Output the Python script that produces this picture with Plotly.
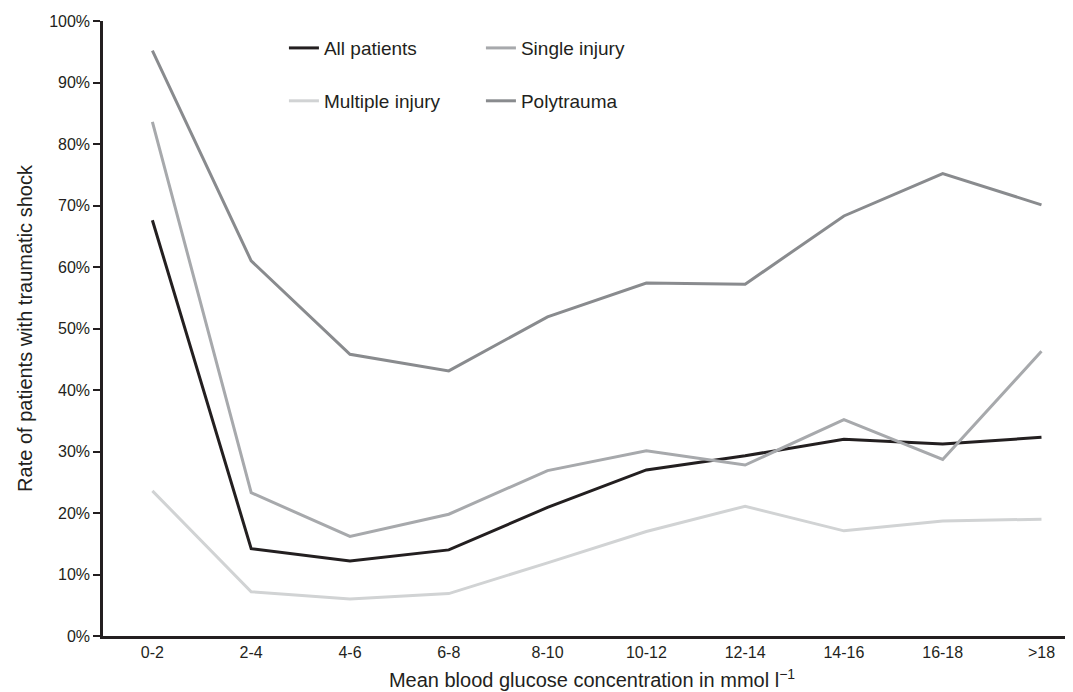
import plotly.graph_objects as go

categories = ["0-2", "2-4", "4-6", "6-8", "8-10", "10-12", "12-14", "14-16", "16-18", ">18"]
all_patients = [67.6, 14.2, 12.2, 14.0, 20.9, 27.0, 29.3, 32.0, 31.2, 32.3]
single_injury = [83.6, 23.3, 16.2, 19.8, 26.9, 30.1, 27.8, 35.2, 28.7, 46.3]
multiple_injury = [23.6, 7.2, 6.0, 6.9, 11.9, 17.0, 21.1, 17.1, 18.7, 19.0]
polytrauma = [95.2, 61.0, 45.8, 43.1, 51.9, 57.4, 57.2, 68.3, 75.2, 70.1]

series = [
    ("All patients", all_patients, "#231f20", "legend"),
    ("Single injury", single_injury, "#a7a9ac", "legend"),
    ("Multiple injury", multiple_injury, "#d1d3d4", "legend2"),
    ("Polytrauma", polytrauma, "#898b8e", "legend2"),
]

FONT = "Liberation Sans, Arial, Helvetica, sans-serif"
fig = go.Figure()
for name, vals, col, lg in series:
    fig.add_trace(go.Scatter(
        x=categories, y=vals, mode="lines", name=name,
        line=dict(color=col, width=3), legend=lg,
    ))

legend_common = dict(
    orientation="h", xanchor="left", yanchor="middle",
    font=dict(family=FONT, size=19, color="#231f20"),
    bgcolor="rgba(0,0,0,0)", entrywidth=152, entrywidthmode="pixels",
    itemwidth=30, tracegroupgap=0,
)

fig.update_layout(
    width=1073, height=692,
    margin=dict(l=95, r=0, t=13, b=64),
    paper_bgcolor="white", plot_bgcolor="white",
    font=dict(family=FONT, color="#231f20"),
    showlegend=True,
    legend=dict(x=0.185, y=0.956, **legend_common),
    legend2=dict(x=0.185, y=0.870, **legend_common),
    xaxis=dict(
        type="category", range=[-0.5, 9.4],
        showline=True, linecolor="#231f20", linewidth=2.5,
        ticks="", showgrid=False, zeroline=False,
        tickfont=dict(family=FONT, size=16, color="#231f20"),
        title=dict(text="Mean blood glucose concentration in mmol l<sup>−1</sup>",
                   font=dict(family=FONT, size=20, color="#231f20"), standoff=14),
    ),
    yaxis=dict(
        range=[0, 100], dtick=10, ticksuffix="%",
        showline=True, linecolor="#231f20", linewidth=2.5,
        ticks="outside", ticklen=7, tickwidth=2, tickcolor="#231f20",
        showgrid=False, zeroline=False,
        tickfont=dict(family=FONT, size=16, color="#231f20"),
        title=dict(text="Rate of patients with traumatic shock",
                   font=dict(family=FONT, size=20, color="#231f20"), standoff=12),
    ),
)

fig.write_html("out.html")
